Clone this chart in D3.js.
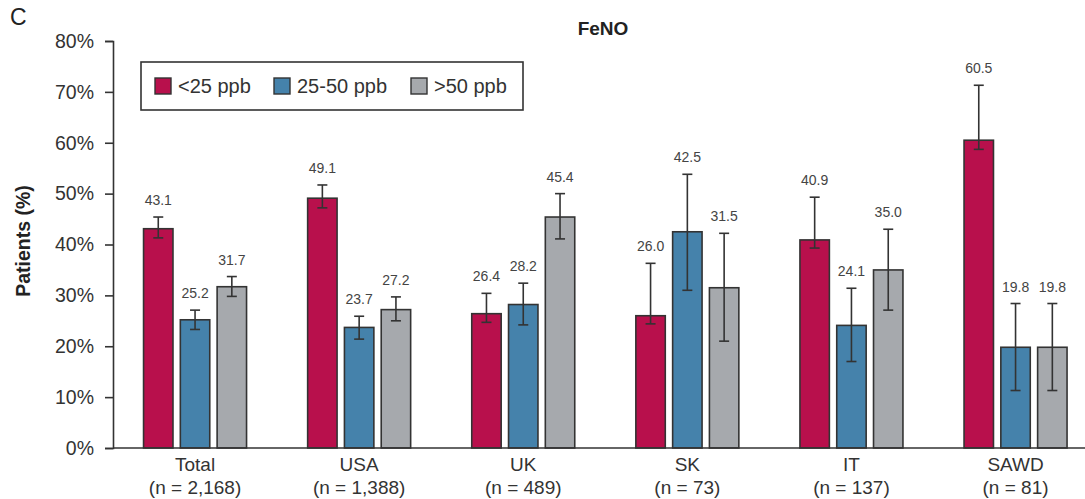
<!DOCTYPE html>
<html>
<head>
<meta charset="utf-8">
<script src="https://cdn.jsdelivr.net/npm/d3@7"></script>
<style>
  html, body { margin: 0; padding: 0; background: #fff; }
  svg { display: block; font-family: "Liberation Sans", Arial, Helvetica, sans-serif; }
</style>
</head>
<body>
<svg id="chart" width="1085" height="499"></svg>
<script>
const categories = ["Total", "USA", "UK", "SK", "IT", "SAWD"];
const sampleSizes = ["(n = 2,168)", "(n = 1,388)", "(n = 489)", "(n = 73)", "(n = 137)", "(n = 81)"];
const seriesNames = ["<25 ppb", "25-50 ppb", ">50 ppb"];
const low = [43.1, 49.1, 26.4, 26.0, 40.9, 60.5];
const mid = [25.2, 23.7, 28.2, 42.5, 24.1, 19.8];
const high = [31.7, 27.2, 45.4, 31.5, 35.0, 19.8];
const lowCI = [[41.3, 45.4], [47.2, 51.7], [24.7, 30.4], [24.4, 36.3], [39.3, 49.3], [58.7, 71.3]];
const midCI = [[23.3, 27.1], [21.4, 25.9], [24.2, 32.4], [31.0, 53.8], [17.0, 31.4], [11.3, 28.4]];
const highCI = [[29.8, 33.7], [25.0, 29.7], [41.1, 50.0], [21.0, 42.2], [27.1, 43.0], [11.3, 28.4]];
const yTicks = [0, 10, 20, 30, 40, 50, 60, 70, 80];
const colors = ["#B8104C", "#4582AB", "#A6A9AD"];

const svg = d3.select("#chart");
const W = 1085, H = 499;
const x0 = 113, yTop = 41, yBot = 448;

const x = d3.scaleBand().domain(categories).range([x0, x0 + 6 * 164.1]).paddingInner(0).paddingOuter(0);
const y = d3.scaleLinear().domain([0, 80]).range([yBot, yTop]);
const xs = d3.scaleBand().domain(seriesNames).range([-51.5, 51.5]).paddingInner(0.2).paddingOuter(0);

const series = [
  { name: seriesNames[0], vals: low, ci: lowCI, color: colors[0] },
  { name: seriesNames[1], vals: mid, ci: midCI, color: colors[1] },
  { name: seriesNames[2], vals: high, ci: highCI, color: colors[2] }
];

const data = [];
categories.forEach((c, i) => {
  series.forEach(s => {
    data.push({ cat: c, ser: s.name, v: s.vals[i], lo: s.ci[i][0], hi: s.ci[i][1], color: s.color });
  });
});
const cx = d => x(d.cat) + x.bandwidth() / 2 + xs(d.ser) + xs.bandwidth() / 2;

// title
svg.append("text").attr("x", 603).attr("y", 35).attr("text-anchor", "middle")
  .attr("font-size", 19).attr("font-weight", "bold").attr("fill", "#222").text("FeNO");
svg.append("text").attr("x", 10).attr("y", 25).attr("font-size", 23).attr("fill", "#222").text("C");

// y axis
const yAxis = d3.axisLeft(y).tickValues(yTicks).tickFormat(d => d + "%").tickSize(8).tickPadding(11);
const gy = svg.append("g").attr("transform", `translate(${x0},0)`).call(yAxis);
gy.select(".domain").attr("stroke", "#333").attr("stroke-width", 1.6);
gy.selectAll(".tick line").attr("stroke", "#333").attr("stroke-width", 1.6);
gy.selectAll(".tick text").attr("font-size", 19.5).attr("fill", "#333")
  .attr("font-family", "Liberation Sans, Arial, sans-serif");

svg.append("text").attr("transform", `translate(30,241) rotate(-90)`)
  .attr("text-anchor", "middle").attr("font-size", 19.5).attr("font-weight", "bold").attr("fill", "#222")
  .text("Patients (%)");

// bars
svg.append("g").selectAll("rect").data(data).join("rect")
  .attr("x", d => x(d.cat) + x.bandwidth() / 2 + xs(d.ser))
  .attr("y", d => y(d.v))
  .attr("width", xs.bandwidth())
  .attr("height", d => y(0) - y(d.v))
  .attr("fill", d => d.color)
  .attr("stroke", "#333").attr("stroke-width", 1.6);

// error bars
const eb = svg.append("g").attr("stroke", "#333").attr("stroke-width", 1.6);
data.forEach(d => {
  const c = cx(d);
  eb.append("line").attr("x1", c).attr("x2", c).attr("y1", y(d.hi)).attr("y2", y(d.lo));
  eb.append("line").attr("x1", c - 5).attr("x2", c + 5).attr("y1", y(d.hi)).attr("y2", y(d.hi));
  eb.append("line").attr("x1", c - 5).attr("x2", c + 5).attr("y1", y(d.lo)).attr("y2", y(d.lo));
});

// value labels
svg.append("g").selectAll("text").data(data).join("text")
  .attr("x", d => cx(d))
  .attr("y", d => y(d.hi) - 12)
  .attr("text-anchor", "middle").attr("font-size", 14).attr("fill", "#444")
  .text(d => d.v.toFixed(1));

// x axis
svg.append("line").attr("x1", x0).attr("x2", W).attr("y1", yBot).attr("y2", yBot)
  .attr("stroke", "#333").attr("stroke-width", 1.6);
const xl = svg.append("g");
categories.forEach((c, i) => {
  const cxm = x(c) + x.bandwidth() / 2;
  xl.append("text").attr("x", cxm).attr("y", 471).attr("text-anchor", "middle")
    .attr("font-size", 19).attr("fill", "#333").text(c);
  xl.append("text").attr("x", cxm).attr("y", 494).attr("text-anchor", "middle")
    .attr("font-size", 19).attr("fill", "#333").text(sampleSizes[i]);
});

// legend
const lg = svg.append("g");
lg.append("rect").attr("x", 141).attr("y", 62).attr("width", 382).attr("height", 48)
  .attr("fill", "#fff").attr("stroke", "#333").attr("stroke-width", 1.6);
const legX = [155, 274, 411];
series.forEach((s, i) => {
  lg.append("rect").attr("x", legX[i]).attr("y", 78).attr("width", 16).attr("height", 16)
    .attr("fill", s.color).attr("stroke", "#333").attr("stroke-width", 1.4);
  lg.append("text").attr("x", legX[i] + 23).attr("y", 93).attr("font-size", 20).attr("fill", "#333").text(s.name);
});
</script>
</body>
</html>
